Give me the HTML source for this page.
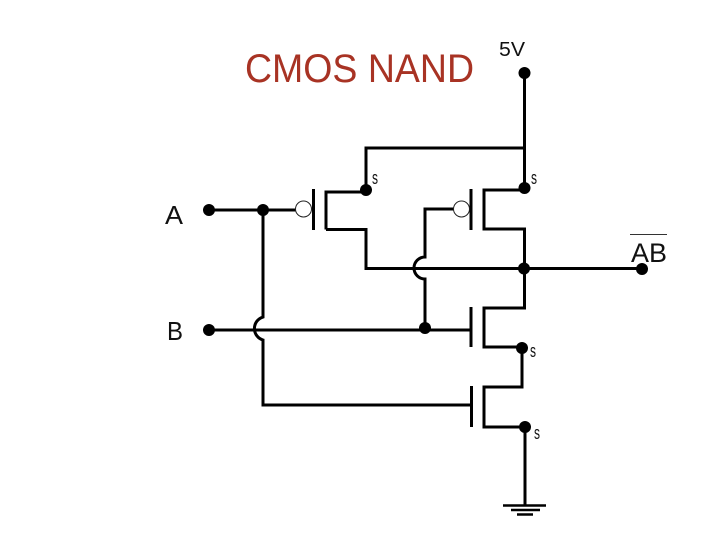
<!DOCTYPE html>
<html>
<head>
<meta charset="utf-8">
<style>
html,body{margin:0;padding:0;background:#fff}
svg{display:block}
text{font-family:"Liberation Sans",sans-serif;fill:#111}
</style>
</head>
<body>
<svg width="720" height="540" viewBox="0 0 720 540" xmlns="http://www.w3.org/2000/svg">
<rect width="720" height="540" fill="#fff"/>
<text x="245" y="82" font-size="40" textLength="229" lengthAdjust="spacingAndGlyphs" style="fill:#a83324">CMOS NAND</text>
<text x="499" y="56" font-size="20" textLength="26" lengthAdjust="spacingAndGlyphs">5V</text>
<text x="165" y="224" font-size="26" textLength="18" lengthAdjust="spacingAndGlyphs">A</text>
<text x="167" y="340" font-size="26" textLength="16" lengthAdjust="spacingAndGlyphs">B</text>
<text x="631" y="262" font-size="27" textLength="36" lengthAdjust="spacingAndGlyphs">AB</text>
<text x="372" y="184" font-size="18" textLength="6" lengthAdjust="spacingAndGlyphs">s</text>
<text x="531" y="184" font-size="18" textLength="6" lengthAdjust="spacingAndGlyphs">s</text>
<text x="530" y="357" font-size="18" textLength="6" lengthAdjust="spacingAndGlyphs">s</text>
<text x="534" y="439" font-size="18" textLength="6" lengthAdjust="spacingAndGlyphs">s</text>
<g fill="none" stroke="#000" stroke-width="3">
<path d="M524.500 73V188M524.500 148H366V190"/>
<path d="M209 210H296"/>
<path d="M263 210V317A12 12 0 0 0 263 340V405H471"/>
<path d="M209 330H471"/>
<path d="M313.500 189V230M326 229.500V192H366"/>
<path d="M326 229.500H366V268.500H642"/>
<path d="M454 209H425V257A11 11 0 0 0 425 279V329"/>
<path d="M471 189V230M524 190H484V229H524.500"/>
<path d="M524.500 227.500V308H484V347H522V387H484V427H525V505"/>
<path d="M471 307V347M471.500 386V427"/>
</g>
<g stroke="#000" stroke-width="2.500">
<path d="M503 505.500H546M511 510H540M517 514.500H533"/>
</g>
<path d="M630 234.500H667" stroke="#333" stroke-width="1"/>
<g fill="#fff" stroke="#222" stroke-width="1">
<circle cx="303.500" cy="209" r="8"/>
<circle cx="461.500" cy="209" r="8"/>
</g>
<g fill="#000">
<circle cx="524.500" cy="73" r="6"/>
<circle cx="366" cy="190" r="6"/>
<circle cx="524.500" cy="188" r="6"/>
<circle cx="209" cy="210" r="6"/>
<circle cx="263" cy="210" r="6"/>
<circle cx="524" cy="268.500" r="6"/>
<circle cx="642" cy="269" r="6"/>
<circle cx="209" cy="330" r="6"/>
<circle cx="425" cy="328" r="6"/>
<circle cx="522" cy="348" r="6"/>
<circle cx="525" cy="427" r="6"/>
</g>
</svg>
</body>
</html>
